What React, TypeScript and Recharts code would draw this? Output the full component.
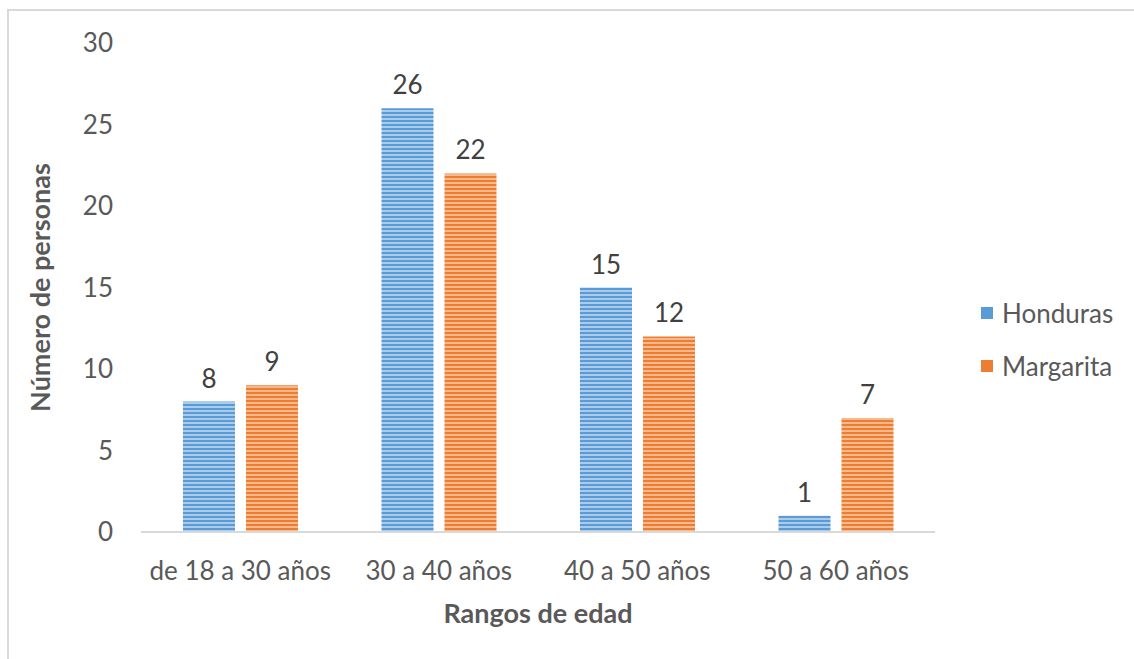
import React from 'react'
import { BarChart, Bar, XAxis, YAxis, LabelList } from 'recharts'

const categories = ['de 18 a 30 años', '30 a 40 años', '40 a 50 años', '50 a 60 años']
const honduras = [8, 26, 15, 1]
const margarita = [9, 22, 12, 7]
const yTicks = [0, 5, 10, 15, 20, 25, 30]

const FONT = 'Lato, "Open Sans", sans-serif'
const TEXT = '#595959'
const FS = 26

const data = categories.map((name, i) => ({ name, honduras: honduras[i], margarita: margarita[i] }))

const series = [
  { key: 'honduras', name: 'Honduras', fill: 'url(#stripeBlue)', swatch: '#5B9BD5' },
  { key: 'margarita', name: 'Margarita', fill: 'url(#stripeOrange)', swatch: '#ED7D31' },
]

function LegendBox() {
  return (
    <div
      style={{ position: 'absolute', left: 981, top: 286, fontFamily: FONT, fontSize: FS, color: TEXT }}
    >
      {series.map((s) => (
        <div key={s.key} style={{ display: 'flex', alignItems: 'center', height: 53 }}>
          <span style={{ width: 12, height: 12, background: s.swatch, marginRight: 9, display: 'inline-block' }} />
          <span>{s.name}</span>
        </div>
      ))}
    </div>
  )
}

export default function App() {
  return (
    <div style={{ position: 'absolute', left: 0, top: 0, width: 1134, height: 659, background: '#fff' }}>
      {/* frame */}
      <div
        style={{
          position: 'absolute',
          left: 7,
          top: 9,
          right: 0,
          bottom: 0,
          borderTop: '2px solid #d9d9d9',
          borderLeft: '2px solid #d9d9d9',
        }}
      />
      <BarChart
        width={1134}
        height={659}
        data={data}
        margin={{ top: 43, right: 199, left: 0, bottom: 0 }}
        barSize={52}
        barGap={11}
        style={{ position: 'absolute', left: 0, top: 0 }}
      >
        <defs>
          <pattern id="stripeBlue" patternUnits="userSpaceOnUse" width={8} height={4}>
            <rect width={8} height={4} fill="#5B9BD5" />
            <rect y={2} width={8} height={2} fill="#A9CBEC" />
          </pattern>
          <pattern id="stripeOrange" patternUnits="userSpaceOnUse" width={8} height={4}>
            <rect width={8} height={4} fill="#ED7D31" />
            <rect y={2} width={8} height={2} fill="#F6B98D" />
          </pattern>
        </defs>
        <XAxis
          dataKey="name"
          height={127}
          tickLine={false}
          axisLine={{ stroke: '#d9d9d9', strokeWidth: 2 }}
          tick={{ fill: TEXT, fontSize: FS, fontFamily: FONT }}
          tickMargin={24}
          label={{
            value: 'Rangos de edad',
            position: 'insideBottom',
            offset: 36,
            fill: TEXT,
            fontSize: 27,
            fontWeight: 700,
            fontFamily: FONT,
          }}
        />
        <YAxis
          width={141}
          domain={[0, 30]}
          ticks={yTicks}
          axisLine={false}
          tickLine={false}
          tickSize={0}
          tickMargin={28}
          tick={{ fill: TEXT, fontSize: FS, fontFamily: FONT }}
          label={{
            value: 'Número de personas',
            angle: -90,
            position: 'insideLeft',
            offset: 40,
            style: { textAnchor: 'middle' },
            fill: TEXT,
            fontSize: 27,
            fontWeight: 700,
            fontFamily: FONT,
          }}
        />
        {series.map((s) => (
          <Bar key={s.key} dataKey={s.key} name={s.name} fill={s.fill} isAnimationActive={false}>
            <LabelList
              dataKey={s.key}
              position="top"
              offset={14}
              fill="#404040"
              fontSize={FS}
              fontFamily={FONT}
            />
          </Bar>
        ))}
      </BarChart>
      <LegendBox />
    </div>
  )
}
